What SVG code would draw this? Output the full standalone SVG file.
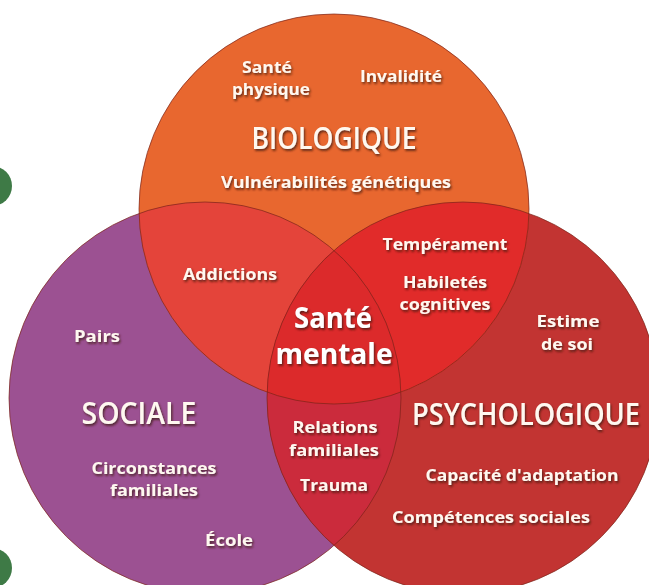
<svg xmlns="http://www.w3.org/2000/svg" width="649" height="585" viewBox="0 0 649 585">
<style>
.lbl{font-family:"Open Sans","Liberation Sans",sans-serif;font-weight:700;font-size:16.5px;fill:#fff8f0;text-anchor:middle;filter:url(#sh)}
.ttl{font-family:"Open Sans","Liberation Sans",sans-serif;font-weight:600;font-size:30px;fill:#fff8f0;text-anchor:middle;filter:url(#sh)}
.big{font-family:"Open Sans","Liberation Sans",sans-serif;font-weight:700;font-size:28px;fill:#ffffff;text-anchor:middle;filter:url(#sh)}
.edge{fill:none;stroke:#7a2418;stroke-width:1;stroke-opacity:0.7}
</style>
<defs>
<filter id="sh" x="-10%" y="-30%" width="120%" height="160%">
<feDropShadow dx="1.2" dy="1.8" stdDeviation="1.2" flood-color="#3a1408" flood-opacity="0.8"/>
</filter>
<clipPath id="cSoc"><circle cx="205" cy="398" r="196"/></clipPath>
<clipPath id="cPsy"><circle cx="463" cy="398" r="196"/></clipPath>
</defs>
<rect width="649" height="585" fill="#ffffff"/>
<g id="deco">
<circle cx="-8" cy="186" r="20" fill="#3e7a46"/>
<circle cx="-8" cy="568" r="20" fill="#3e7a46"/>
</g>
<g id="sociale">
<circle cx="205" cy="398" r="196" fill="#9c5192"/>
</g>
<g id="psychologique">
<circle cx="463" cy="398" r="196" fill="#c23432"/>
</g>
<g id="biologique">
<circle cx="334" cy="209" r="195" fill="#e8672f"/>
</g>
<g id="bio-soc" clip-path="url(#cSoc)"><circle cx="334" cy="209" r="195" fill="#e4443a"/></g>
<g id="bio-psy" clip-path="url(#cPsy)"><circle cx="334" cy="209" r="195" fill="#e12b2a"/></g>
<g id="soc-psy" clip-path="url(#cPsy)"><circle cx="205" cy="398" r="196" fill="#cb2b3c"/></g>
<g id="sante-mentale" clip-path="url(#cPsy)"><g clip-path="url(#cSoc)"><circle cx="334" cy="209" r="195" fill="#dc2a2b"/></g></g>
<g id="outlines">
<circle class="edge" cx="205" cy="398" r="196"/>
<circle class="edge" cx="463" cy="398" r="196"/>
<circle class="edge" cx="334" cy="209" r="195"/>
</g>
<g id="labels-bio">
<text class="lbl" x="267" y="73" textLength="50" lengthAdjust="spacingAndGlyphs">Santé</text>
<text class="lbl" x="271" y="95" textLength="78" lengthAdjust="spacingAndGlyphs">physique</text>
<text class="lbl" x="401" y="82" textLength="82" lengthAdjust="spacingAndGlyphs">Invalidité</text>
<text class="ttl" x="334" y="149" textLength="165" lengthAdjust="spacingAndGlyphs">BIOLOGIQUE</text>
<text class="lbl" x="336" y="188" textLength="230" lengthAdjust="spacingAndGlyphs">Vulnérabilités génétiques</text>
</g>
<g id="labels-bio-soc">
<text class="lbl" x="230" y="280" textLength="94" lengthAdjust="spacingAndGlyphs">Addictions</text>
</g>
<g id="labels-bio-psy">
<text class="lbl" x="445" y="250" textLength="125" lengthAdjust="spacingAndGlyphs">Tempérament</text>
<text class="lbl" x="445" y="288" textLength="84" lengthAdjust="spacingAndGlyphs">Habiletés</text>
<text class="lbl" x="445" y="310" textLength="91" lengthAdjust="spacingAndGlyphs">cognitives</text>
</g>
<g id="labels-center">
<text class="big" x="333" y="328" textLength="78" lengthAdjust="spacingAndGlyphs">Santé</text>
<text class="big" x="334" y="364" textLength="117" lengthAdjust="spacingAndGlyphs">mentale</text>
</g>
<g id="labels-soc">
<text class="lbl" x="97" y="342" textLength="46" lengthAdjust="spacingAndGlyphs">Pairs</text>
<text class="ttl" x="139" y="424" textLength="115" lengthAdjust="spacingAndGlyphs">SOCIALE</text>
<text class="lbl" x="154" y="474" textLength="125" lengthAdjust="spacingAndGlyphs">Circonstances</text>
<text class="lbl" x="154" y="496" textLength="88" lengthAdjust="spacingAndGlyphs">familiales</text>
<text class="lbl" x="229" y="546" textLength="48" lengthAdjust="spacingAndGlyphs">École</text>
</g>
<g id="labels-soc-psy">
<text class="lbl" x="335" y="433" textLength="85" lengthAdjust="spacingAndGlyphs">Relations</text>
<text class="lbl" x="334" y="456" textLength="90" lengthAdjust="spacingAndGlyphs">familiales</text>
<text class="lbl" x="334" y="491" textLength="68" lengthAdjust="spacingAndGlyphs">Trauma</text>
</g>
<g id="labels-psy">
<text class="lbl" x="568" y="327" textLength="63" lengthAdjust="spacingAndGlyphs">Estime</text>
<text class="lbl" x="567" y="350" textLength="52" lengthAdjust="spacingAndGlyphs">de soi</text>
<text class="ttl" transform="translate(526,425) scale(0.86,1)" x="0" y="0" textLength="265" lengthAdjust="spacingAndGlyphs">PSYCHOLOGIQUE</text>
<text class="lbl" x="522" y="481" textLength="193" lengthAdjust="spacingAndGlyphs">Capacité d'adaptation</text>
<text class="lbl" x="491" y="523" textLength="198" lengthAdjust="spacingAndGlyphs">Compétences sociales</text>
</g>
</svg>
